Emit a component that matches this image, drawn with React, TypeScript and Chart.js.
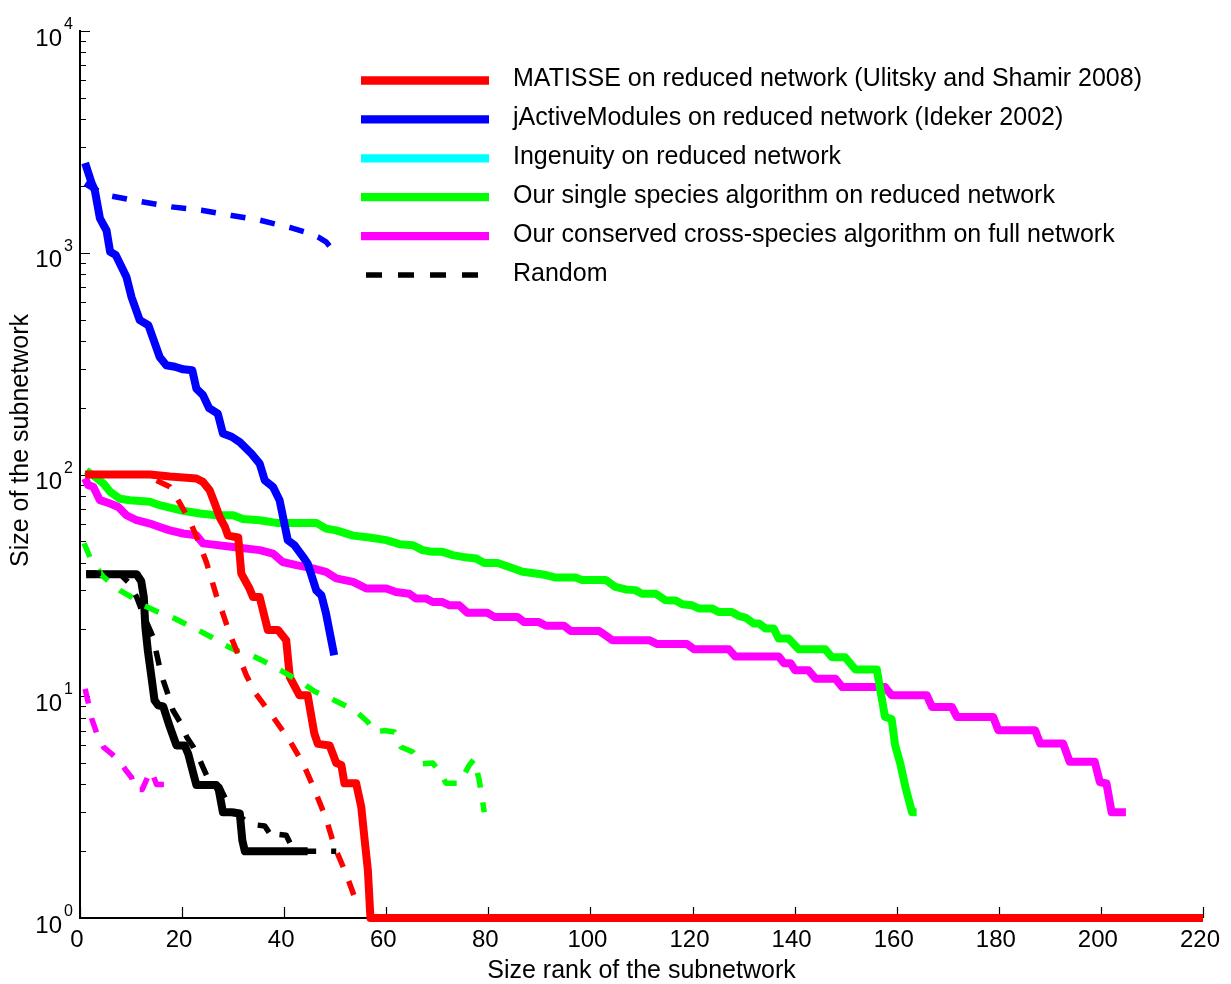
import React, { useEffect, useRef } from 'react';
import { Chart, registerables } from 'chart.js';

Chart.register(...registerables);

const FONT = "'Liberation Sans', Arial, Helvetica, sans-serif";

// ---- tick values ----
const xTickValues = [0, 20, 40, 60, 80, 100, 120, 140, 160, 180, 200, 220];
const yDecades = [1, 10, 100, 1000, 10000];
const yExponents = ['0', '1', '2', '3', '4'];

// ---- titles ----
const xTitle = 'Size rank of the subnetwork';
const yTitle = 'Size of the subnetwork';

// ---- series: MATISSE (red, solid) ----
const matisseX = [1, 13.7, 17.6, 22.8, 24.1, 25.4, 26.4, 27.4, 28.4, 29.0, 31.0, 31.6, 33.2, 33.9, 35.2, 36.8, 38.8, 40.4, 41.1, 43.0, 44.6, 45.9, 46.6, 48.9, 50.2, 51.2, 51.8, 54.1, 55.1, 55.7, 56.4, 56.9, 220];
const matisseY = [100, 100, 98, 96, 92.6, 85, 74, 64, 58, 53, 52, 35.7, 30.6, 28, 28, 19.9, 19.9, 17.9, 12.2, 10.1, 10.1, 6.8, 6.1, 6.0, 5.0, 4.9, 4.05, 4.05, 3.17, 2.32, 1.64, 1, 1];

// ---- series: MATISSE random (red, dashed) ----
const matisseRandX = [15.0, 17.6, 19.6, 21.5, 23.5, 24.8, 26.7, 28.0, 29.3, 30.9, 32.6, 34.4, 37.8, 41.1, 43.7, 46.0, 48.2, 49.9, 52.1, 53.8, 55.7];
const matisseRandY = [94, 88, 74, 62, 48, 40, 28.5, 23.6, 19.2, 15.6, 12.4, 10.3, 8.07, 6.3, 4.97, 3.77, 2.81, 2.09, 1.59, 1.24, 1.22];

// ---- series: jActiveModules (blue, solid) ----
const jactiveX = [1.0, 2.3, 2.9, 3.9, 5.2, 5.9, 7.0, 9.1, 10.1, 11.7, 13.4, 15.6, 16.9, 18.6, 20.2, 22.0, 22.8, 24.1, 25.3, 27.0, 28.0, 29.7, 31.3, 33.6, 35.2, 36.2, 37.8, 39.1, 40.7, 42.0, 43.7, 44.6, 46.3, 47.3, 48.2, 49.8];
const jactiveY = [2540, 2055, 1915, 1430, 1260, 1010, 977, 777, 630, 497, 471, 339, 311, 306, 298, 295, 244, 228, 199, 188, 153, 148, 140, 124, 112, 94, 88, 76.5, 50.6, 48, 42.5, 39.7, 30, 28.5, 23.6, 15.3];

// ---- series: jActiveModules random (blue, dashed) ----
const jactiveRandX = [1, 2.5, 6.2, 12.1, 17.9, 23.8, 29.7, 35.2, 41.1, 44.0, 46.6, 48.2, 48.9];
const jactiveRandY = [2050, 1950, 1800, 1697, 1610, 1556, 1472, 1403, 1300, 1242, 1179, 1120, 1071];

// ---- series: Ingenuity (cyan) – no visible points ----
const ingenuityX: number[] = [];
const ingenuityY: number[] = [];

// ---- series: black solid ----
const blackX = [1.2, 11.1, 12.0, 12.5, 12.8, 13.3, 14.0, 14.6, 15.3, 16.3, 17.6, 18.9, 20.5, 21.2, 22.2, 22.8, 26.7, 27.2, 28.0, 29.7, 31.3, 31.8, 32.3, 44.6];
const blackY = [35.5, 35.5, 33, 28, 20.5, 16, 12.2, 9.6, 9.1, 9.0, 7.27, 6.0, 6.0, 5.5, 4.48, 3.98, 3.98, 3.77, 3.0, 3.0, 2.96, 2.24, 2.0, 2.0];

// ---- series: Random (black, dashed) ----
const randomX = [1.2, 7.8, 9.4, 11.1, 12.5, 13.7, 14.3, 15.0, 15.6, 16.3, 17.3, 18.2, 19.6, 20.9, 22.2, 23.5, 24.8, 27.4, 28.0, 29.5, 31.5, 33.2, 36.2, 37.8, 39.0, 40.4, 41.5, 43.0, 50.2];
const randomY = [36, 35.7, 32.8, 28, 23, 19.9, 18.5, 15.6, 13.5, 11.8, 10.1, 8.65, 7.65, 6.55, 5.9, 5.14, 4.4, 3.9, 3.64, 3.1, 2.85, 2.65, 2.6, 2.28, 2.38, 2.36, 2.1, 2.0, 2.0];

// ---- series: single species (green, solid) ----
const singleX = [1.2, 2.6, 4.6, 5.9, 7.8, 9.8, 13.7, 15.6, 19.6, 23.5, 26.7, 30.0, 31.9, 35.2, 38.5, 46.3, 48.2, 50.2, 53.5, 56.7, 60.0, 62.6, 65.2, 67.1, 69.1, 71.0, 73.0, 75.0, 77.6, 79.2, 81.8, 84.1, 86.7, 89.3, 91.3, 93.2, 97.1, 98.4, 103.0, 104.9, 106.9, 108.8, 110.1, 112.8, 114.7, 116.7, 118.0, 119.9, 121.2, 123.8, 125.1, 127.7, 129.1, 130.4, 132.0, 133.0, 134.3, 135.9, 136.9, 138.8, 140.8, 146.0, 147.3, 149.9, 151.9, 156.1, 157.7, 159.0, 159.7, 160.7, 161.7, 163.0, 163.9];
const singleY = [104, 99, 91, 83.6, 77.8, 76.6, 75.3, 72.7, 69, 66.7, 65.5, 65.5, 63, 62.2, 60.5, 60.5, 57, 56, 53, 52, 50.6, 48.5, 48, 45.6, 44.8, 44.8, 43.3, 42.5, 41.8, 39.9, 39.9, 38.3, 36.4, 35.8, 35.2, 34.3, 34.3, 33.4, 33.4, 31.1, 30.3, 30.1, 29, 29, 27.1, 27, 26, 25.7, 24.9, 24.9, 24, 24, 23, 22.6, 21.3, 21.3, 20.2, 20.2, 18.2, 18.2, 16.3, 16.3, 15.0, 15.0, 13.2, 13.2, 8.07, 7.9, 6.0, 4.97, 3.9, 3.0, 3.0];

// ---- series: single species random (green, dashed) ----
const singleRandX = [0.8, 2.0, 4.6, 7.8, 10.1, 12.4, 15.3, 17.9, 20.5, 23.1, 25.7, 28.4, 30.6, 33.6, 36.2, 38.8, 41.1, 43.7, 46.0, 48.6, 51.0, 53.8, 56.4, 57.7, 59.6, 61.6, 62.9, 65.2, 66.8, 69.1, 70.4, 71.7, 74.3, 76.3, 77.2, 78.2, 79.2];
const singleRandY = [49, 42, 34.5, 30, 28, 25.7, 24, 22.8, 21.3, 19.9, 18.5, 17, 16.1, 15.3, 14.3, 13.3, 12.4, 11.4, 10.5, 9.9, 9.3, 8.65, 7.65, 6.9, 7.0, 6.9, 5.9, 5.6, 4.95, 5.0, 4.6, 4.05, 4.05, 4.9, 5.2, 4.2, 3.0];

// ---- series: conserved cross-species (magenta, solid) ----
const consX = [1.0, 1.6, 2.6, 3.9, 5.9, 7.5, 9.1, 11.1, 13.7, 15.6, 17.6, 20.2, 22.8, 24.1, 30.0, 35.2, 37.8, 39.7, 42.4, 45.6, 48.2, 50.2, 53.5, 56.1, 60.0, 61.9, 64.5, 65.8, 67.8, 69.1, 71.0, 72.4, 74.3, 75.9, 79.8, 81.2, 85.7, 87.0, 89.9, 91.3, 94.8, 96.1, 101.7, 103.0, 104.3, 111.5, 113.1, 118.9, 120.3, 127.1, 128.4, 136.9, 137.9, 139.2, 140.1, 142.7, 144.1, 148.0, 149.3, 157.7, 159.0, 165.9, 166.9, 170.8, 171.8, 178.9, 179.9, 187.1, 188.1, 192.6, 193.9, 198.8, 199.8, 201.1, 202.1, 204.9];
const consY = [96, 89.5, 88, 76.6, 74, 71.4, 65.5, 62.2, 60.1, 58, 56, 54.2, 53.2, 48.9, 47.1, 45.6, 44, 40.3, 39, 37.7, 36.4, 34, 32.8, 30.6, 30.6, 29.5, 29, 27.6, 27.6, 26.6, 26.6, 25.7, 25.7, 23.8, 23.8, 22.8, 22.8, 21.6, 21.6, 20.8, 20.8, 19.7, 19.7, 18.8, 17.9, 17.9, 17.2, 17.2, 16.3, 16.3, 15.1, 15.1, 14.1, 14.1, 13.1, 13.1, 12.0, 12.0, 11.0, 11.0, 10.1, 10.1, 8.95, 8.95, 8.07, 8.07, 7.03, 7.03, 6.12, 6.12, 5.06, 5.06, 4.1, 4.04, 3.0, 3.0];

// ---- series: conserved random (magenta, dashed) ----
const consRandX = [1.0, 1.6, 2.3, 3.3, 4.6, 6.2, 7.8, 9.1, 10.1, 10.8, 12.2, 13.4, 14.0, 15.0, 17.9];
const consRandY = [10.8, 9.4, 7.9, 6.8, 5.9, 5.5, 5.06, 4.6, 4.3, 3.8, 3.8, 4.4, 4.6, 4.0, 4.0];

// ---- legend ----
const legendLabels = [
  'MATISSE on reduced network (Ulitsky and Shamir 2008)',
  'jActiveModules on reduced network (Ideker 2002)',
  'Ingenuity on reduced network',
  'Our single species algorithm on reduced network',
  'Our conserved cross-species algorithm on full network',
  'Random',
];

const pts = (xs: number[], ys: number[]) => xs.map((x, i) => ({ x, y: ys[i] }));

const SOLID_W = 8;
const DASH_W = 5.5;
const DASH = [15, 15];

const solid = (label: string, color: string, xs: number[], ys: number[]) => ({
  label, data: pts(xs, ys), borderColor: color, backgroundColor: color,
  borderWidth: SOLID_W, pointRadius: 0, tension: 0, fill: false, clip: false as any,
  borderJoinStyle: 'round' as const, borderCapStyle: 'butt' as const,
});
const dashed = (label: string, color: string, xs: number[], ys: number[]) => ({
  label, data: pts(xs, ys), borderColor: color, backgroundColor: color,
  borderWidth: DASH_W, borderDash: DASH, pointRadius: 0, tension: 0, fill: false, clip: false as any,
  borderJoinStyle: 'round' as const, borderCapStyle: 'butt' as const,
});

const axesPlugin = {
  id: 'matlabAxes',
  beforeDatasetsDraw(chart: any) {
    const { ctx, chartArea } = chart;
    const xs = chart.scales.x;
    const ys = chart.scales.y;
    ctx.save();
    ctx.strokeStyle = '#000';
    ctx.lineWidth = 1.2;
    ctx.beginPath();
    for (const v of xTickValues) {
      const px = Math.round(xs.getPixelForValue(v)) + 0.5;
      ctx.moveTo(px, chartArea.bottom);
      ctx.lineTo(px, chartArea.bottom - 11);
    }
    for (let d = 0; d < yDecades.length; d++) {
      for (let m = 1; m <= 9; m++) {
        const v = yDecades[d] * m;
        if (v > yDecades[yDecades.length - 1]) break;
        const py = Math.round(ys.getPixelForValue(v)) + 0.5;
        const len = m === 1 ? 10 : 6;
        ctx.moveTo(chartArea.left, py);
        ctx.lineTo(chartArea.left + len, py);
      }
    }
    ctx.stroke();
    ctx.restore();
  },
  afterDraw(chart: any) {
    const { ctx, chartArea } = chart;
    const ys = chart.scales.y;
    ctx.save();
    ctx.fillStyle = '#000';
    // y tick labels 10^n
    yDecades.forEach((v, i) => {
      const py = ys.getPixelForValue(v);
      ctx.font = `24px ${FONT}`;
      ctx.textAlign = 'right';
      ctx.textBaseline = 'alphabetic';
      ctx.fillText('10', chartArea.left - 18, py + 14.5);
      ctx.font = `16px ${FONT}`;
      ctx.textAlign = 'left';
      ctx.fillText(yExponents[i], chartArea.left - 16, py - 2);
    });
    // y title
    ctx.save();
    ctx.translate(21.5, 440.5);
    ctx.rotate(-Math.PI / 2);
    ctx.font = `25px ${FONT}`;
    ctx.textAlign = 'center';
    ctx.textBaseline = 'middle';
    ctx.fillText(yTitle, 0, 0);
    ctx.restore();
    // legend
    const ds = chart.data.datasets;
    legendLabels.forEach((lab, i) => {
      const d = ds.find((q: any) => q.label === lab);
      if (!d) return;
      const y = chartArea.top + 49.5 + i * 38.9;
      const isDashed = Array.isArray(d.borderDash) && d.borderDash.length > 0;
      ctx.save();
      ctx.strokeStyle = d.borderColor;
      ctx.lineWidth = isDashed ? 5.5 : 8.3;
      ctx.lineCap = 'butt';
      ctx.setLineDash(isDashed ? [16, 16] : []);
      ctx.beginPath();
      ctx.moveTo(isDashed ? 366 : 361, y);
      ctx.lineTo(isDashed ? 478 : 489, y);
      ctx.stroke();
      ctx.restore();
      ctx.font = `25px ${FONT}`;
      ctx.textAlign = 'left';
      ctx.textBaseline = 'middle';
      ctx.fillText(lab, 513, y - 1);
    });
    ctx.restore();
  },
};

export default function App() {
  const ref = useRef<HTMLCanvasElement>(null);
  useEffect(() => {
    document.body.style.margin = '0';
    const datasets: any[] = [
      dashed('MATISSE random', '#ff0000', matisseRandX, matisseRandY),
      dashed('jActiveModules random', '#0000ff', jactiveRandX, jactiveRandY),
      dashed('Random', '#000000', randomX, randomY),
      dashed('Single species random', '#00ff00', singleRandX, singleRandY),
      dashed('Conserved random', '#ff00ff', consRandX, consRandY),
      solid(legendLabels[1], '#0000ff', jactiveX, jactiveY),
      solid(legendLabels[0], '#ff0000', matisseX, matisseY),
      solid('Random (solid)', '#000000', blackX, blackY),
      solid(legendLabels[3], '#00ff00', singleX, singleY),
      solid(legendLabels[4], '#ff00ff', consX, consY),
      solid(legendLabels[2], '#00ffff', ingenuityX, ingenuityY),
    ];
    const chart = new Chart(ref.current!, {
      type: 'line',
      data: { datasets },
      options: {
        animation: false,
        responsive: true,
        maintainAspectRatio: false,
        devicePixelRatio: 1,
        layout: { padding: { top: 31, right: 26, left: 0, bottom: 0 } },
        plugins: { legend: { display: false }, tooltip: { enabled: false } },
        scales: {
          x: {
            type: 'linear',
            position: 'bottom',
            min: 0,
            max: 220,
            afterBuildTicks: (s: any) => { s.ticks = xTickValues.map((v) => ({ value: v })); },
            afterFit: (s: any) => { s.height = 66; },
            grid: { display: false, drawTicks: false },
            border: { display: true, color: '#000', width: 2 },
            ticks: {
              color: '#000',
              font: { family: FONT, size: 24 },
              padding: 8,
              labelOffset: -3,
              maxRotation: 0,
              autoSkip: false,
              callback: (v: any) => String(v),
            },
            title: {
              display: true,
              text: xTitle,
              color: '#000',
              font: { family: FONT, size: 25, lineHeight: 1 },
              padding: 0,
            },
          },
          y: {
            type: 'logarithmic',
            position: 'left',
            min: 1,
            max: 10000,
            afterFit: (s: any) => { s.width = 80; },
            grid: { display: false, drawTicks: false },
            border: { display: true, color: '#000', width: 2 },
            ticks: { display: false },
          },
        },
      },
      plugins: [axesPlugin],
    });
    return () => chart.destroy();
  }, []);
  return (
    <div style={{ width: 1231, height: 984, position: 'relative' }}>
      <canvas ref={ref} />
    </div>
  );
}
